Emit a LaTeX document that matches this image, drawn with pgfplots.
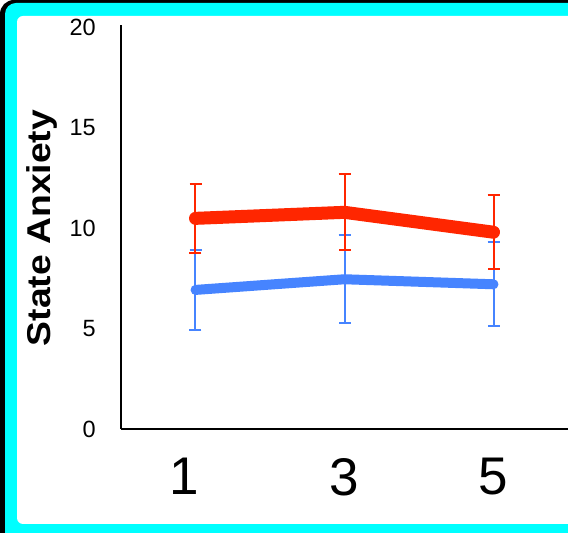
\documentclass[border=0pt]{standalone}
\usepackage{fontspec}
\setmainfont{Liberation Sans}
\usepackage{graphicx}
\usepackage{pgfplots}
\pgfplotsset{compat=1.18}
\definecolor{myred}{RGB}{255,38,0}
\definecolor{myblue}{RGB}{70,132,255}
\definecolor{mycyan}{RGB}{0,255,255}
\begin{document}
\begin{tikzpicture}[x=1pt,y=1pt]
\begin{scope}
\clip (0,0) rectangle (568,533);
\fill[black, rounded corners=14pt] (0,-60) rectangle (700,533);
\fill[mycyan, rounded corners=11pt] (5,-60) rectangle (700,530);
\fill[white, rounded corners=6pt] (17,9) rectangle (700,517);
\begin{axis}[
  at={(121pt,104pt)}, anchor=south west,
  scale only axis, width=447pt, height=404pt,
  xmin=0, xmax=6, ymin=0, ymax=20.1,
  axis lines=left, axis line style={-, line width=1.5pt, black},
  xtick={1,3,5}, ytick={0,5,10,15,20},
  xticklabels={\makebox[0pt]{\hspace*{-22pt}1},3,5},
  major tick length=0pt,
  /pgf/number format/assume math mode=true,
  yticklabel style={font=\fontsize{23.5}{24}\selectfont, inner sep=0pt, anchor=east, xshift=-25pt},
  xticklabel style={font=\fontsize{53}{54}\selectfont, inner sep=0pt, anchor=north, yshift=-29pt},
  clip=false,
]
\addplot[myblue, line width=10pt, line cap=round, line join=round,
  error bars/.cd, y dir=both, y explicit,
  error bar style={line width=2pt, myblue, line cap=butt},
  error mark options={rotate=90, mark size=6pt, line width=2pt, myblue}]
  coordinates {(1,6.92) +- (0,2.0) (3,7.45) +- (0,2.2) (5,7.2) +- (0,2.1)};
\addplot[myred, line width=13pt, line cap=round, line join=round,
  error bars/.cd, y dir=both, y explicit,
  error bar style={line width=2pt, myred, line cap=butt},
  error mark options={rotate=90, mark size=6pt, line width=2pt, myred}]
  coordinates {(1,10.48) +- (0,1.71) (3,10.78) +- (0,1.89) (5,9.79) +- (0,1.85)};
\end{axis}
\node[rotate=90, anchor=base, inner sep=0pt, font=\fontsize{33}{33}\selectfont\bfseries] at (50,305) {\scalebox{1.13}[1]{State Anxiety}};
\end{scope}
\pgfresetboundingbox
\useasboundingbox (0,0) rectangle (568,533);
\end{tikzpicture}
\end{document}
